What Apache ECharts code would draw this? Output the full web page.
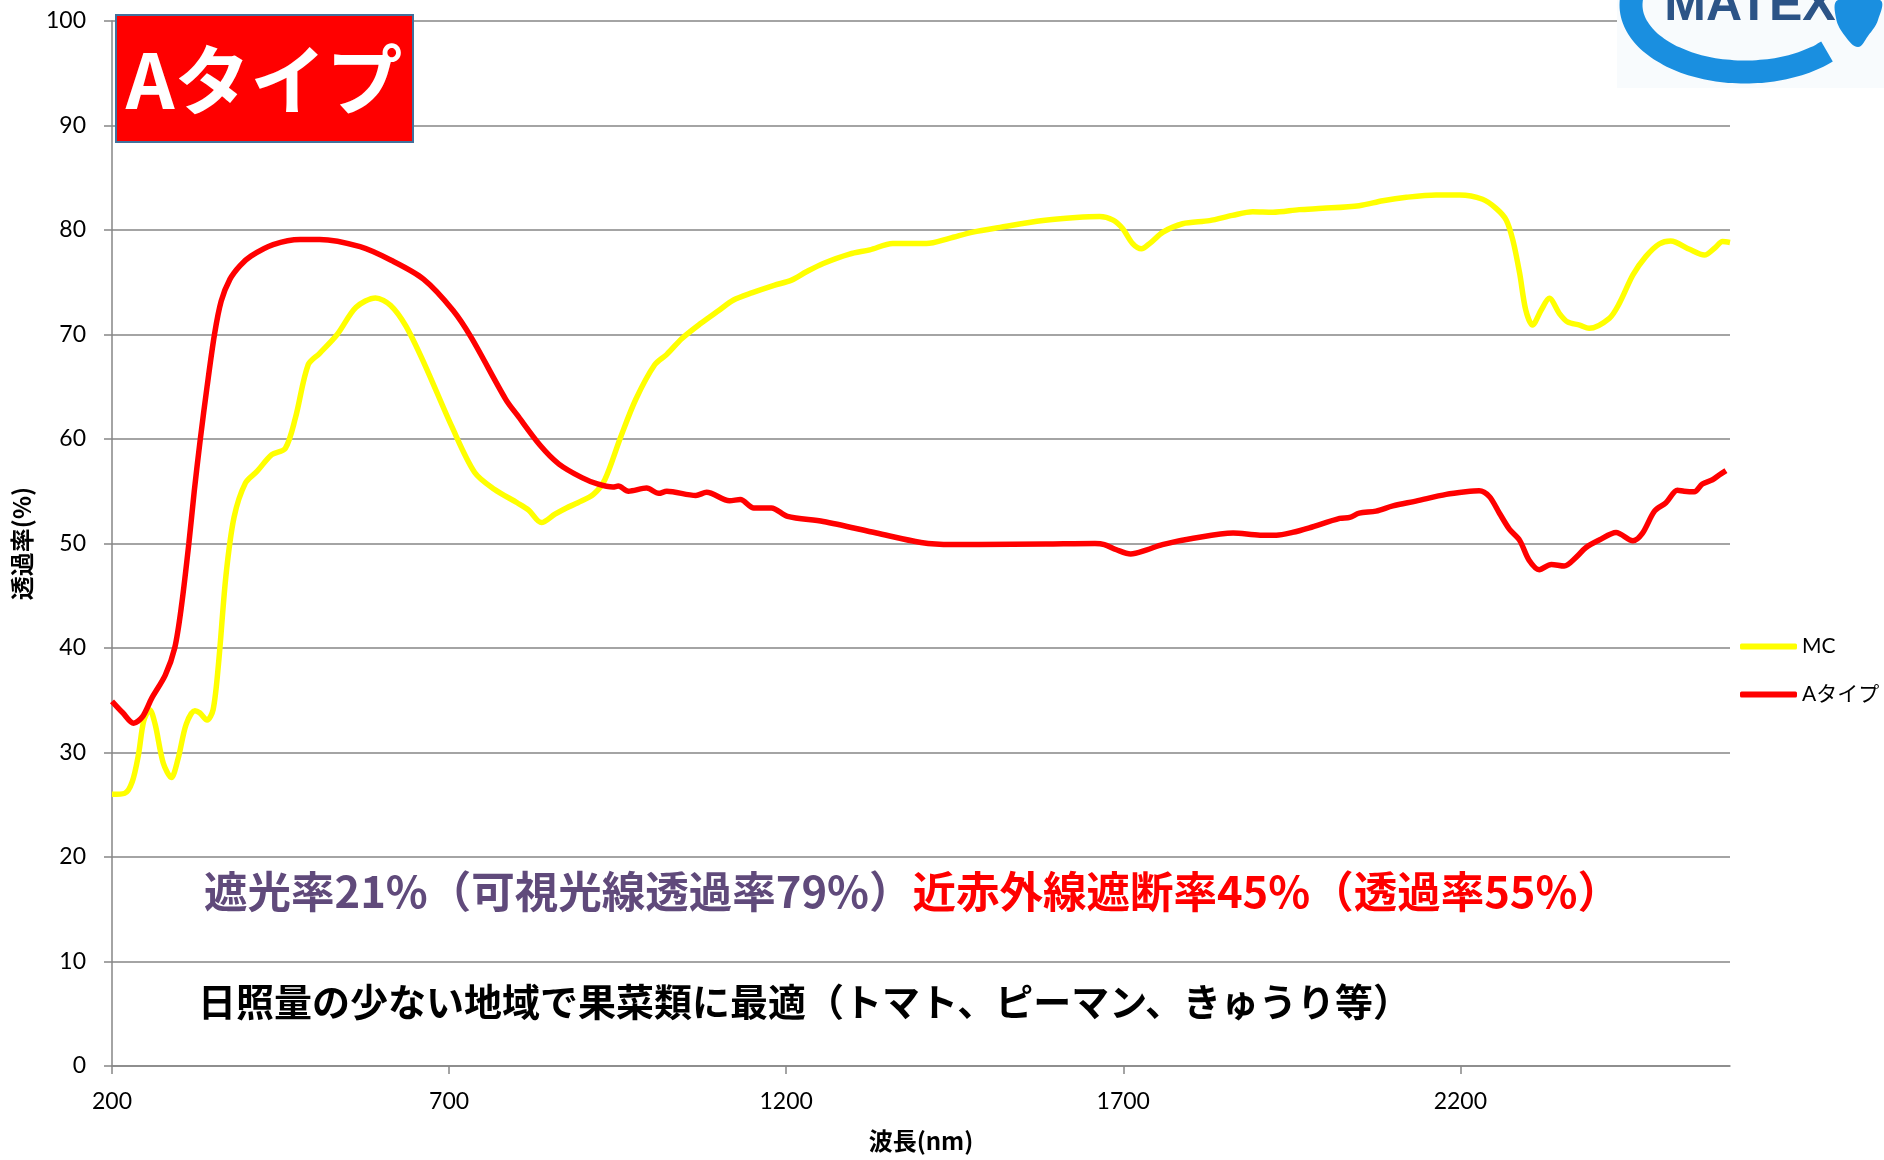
<!DOCTYPE html>
<html>
<head>
<meta charset="utf-8">
<script src="https://cdn.jsdelivr.net/npm/echarts@6/dist/echarts.min.js"></script>
<style>
html,body{margin:0;padding:0;background:#fff;}
#chart{width:1884px;height:1160px;}
</style>
</head>
<body>
<div id="chart"></div>
<script>
// ---- data ----
const seriesNames = ['MC', 'Aタイプ'];
const xTickLabels = [200, 700, 1200, 1700, 2200];

const wavelengthMC = [200,219,230,239,247,256,264,276,288,298,310,323,330,341,350,358,369,381,398,415,437,457,472,491,508,534,562,591,613,636,664,704,738,767,801,818,837,857,874,891,914,931,954,977,1005,1023,1045,1072,1100,1122,1150,1182,1208,1230,1255,1294,1324,1358,1408,1442,1477,1517,1581,1630,1665,1685,1699,1714,1727,1739,1759,1788,1828,1862,1892,1922,1961,1996,2050,2085,2120,2164,2199,2233,2253,2268,2278,2288,2297,2307,2320,2332,2347,2359,2377,2391,2421,2436,2456,2475,2495,2512,2540,2562,2577,2589,2600];
const transMC = [26.0,26.1,27.2,29.7,33.0,34.1,32.7,29.0,27.6,29.4,32.7,34.0,33.8,33.1,34.1,38.5,46.9,52.5,55.8,56.9,58.5,59.1,62.0,67.1,68.2,70.0,72.6,73.5,72.8,70.8,67.1,61.2,56.8,55.2,53.9,53.2,52.0,52.8,53.4,53.9,54.7,56.1,60.1,63.8,67.1,68.1,69.6,71.0,72.3,73.3,74.0,74.7,75.2,76.0,76.8,77.7,78.1,78.7,78.7,79.2,79.8,80.25,80.9,81.2,81.3,80.95,80.15,78.7,78.2,78.7,79.8,80.6,80.9,81.4,81.75,81.7,81.95,82.07,82.33,82.8,83.13,83.35,83.35,82.94,82.07,80.96,79.0,75.85,72.35,70.9,72.35,73.46,72.0,71.2,70.9,70.6,71.55,73.0,75.7,77.45,78.66,78.95,78.15,77.6,78.25,78.9,78.8];

const wavelengthA = [200,216,232,245,259,279,293,303,314,322,331,341,352,362,375,390,406,439,479,508,568,614,662,706,733,784,801,835,863,897,920,943,951,966,993,1011,1023,1066,1082,1116,1132,1152,1178,1202,1255,1334,1400,1446,1486,1585,1658,1672,1690,1711,1735,1758,1804,1863,1903,1927,1951,1976,2021,2036,2050,2075,2100,2134,2179,2208,2228,2243,2258,2273,2288,2302,2317,2335,2354,2372,2386,2406,2431,2456,2470,2488,2505,2522,2532,2547,2559,2574,2584,2594];
const transA = [34.9,33.8,32.8,33.4,35.2,37.4,40.0,44.0,50.0,55.0,60.0,65.0,70.0,73.2,75.3,76.6,77.5,78.6,79.1,79.1,78.4,77.1,75.3,72.3,69.7,63.8,62.3,59.4,57.6,56.3,55.7,55.4,55.5,55.0,55.3,54.8,55.0,54.6,54.9,54.1,54.2,53.4,53.4,52.6,52.1,51.0,50.1,49.9,49.9,49.95,50.0,49.9,49.4,49.0,49.4,49.9,50.5,51.0,50.8,50.8,51.06,51.5,52.4,52.5,52.9,53.1,53.6,54.06,54.7,54.95,55.05,54.5,52.9,51.35,50.3,48.4,47.5,48.0,47.84,48.7,49.6,50.33,51.06,50.27,50.97,53.1,53.9,55.1,55.0,54.95,55.7,56.1,56.55,56.97];

const pairs = (xs, ys) => xs.map((x, i) => [x, ys[i]]);

// decorative logo ring (ellipse arc), not data
const ringPts = [];
for (let a = 200; a >= 42; a -= 4) {
  const t = a * Math.PI / 180;
  ringPts.push([1745 + 114 * Math.cos(t), 5 + 67 * Math.sin(t)]);
}

const chart = echarts.init(document.getElementById('chart'), null, {renderer: 'canvas'});
const gridColor = '#868686';
const labelFont = 'Lato, "Liberation Sans", sans-serif';
const cjkFont = '"Noto Sans CJK JP", "Noto Sans", sans-serif';

chart.setOption({
  animation: false,
  backgroundColor: '#ffffff',
  grid: {left: 112, right: 154, top: 21, bottom: 94, containLabel: false},
  xAxis: {
    type: 'value', min: 200, max: 2600, interval: 500,
    name: '波長(nm)', nameLocation: 'middle', nameGap: 63,
    nameTextStyle: {fontFamily: cjkFont, fontWeight: 'bold', fontSize: 24, color: '#000'},
    axisLine: {show: true, onZero: false, lineStyle: {color: gridColor, width: 1.5}},
    axisTick: {show: true, length: 8, inside: false, customValues: xTickLabels, lineStyle: {color: gridColor, width: 1.5}},
    axisLabel: {customValues: xTickLabels, formatter: v => String(v), margin: 24, fontFamily: labelFont, fontSize: 23, color: '#000'},
    splitLine: {show: false}
  },
  yAxis: {
    type: 'value', min: 0, max: 100, interval: 10,
    name: '透過率(%)', nameLocation: 'middle', nameRotate: 90, nameGap: 78,
    nameTextStyle: {fontFamily: cjkFont, fontWeight: 'bold', fontSize: 24, color: '#000'},
    axisLine: {show: true, lineStyle: {color: gridColor, width: 1.5}},
    axisTick: {show: true, length: 8, lineStyle: {color: gridColor, width: 1.5}},
    axisLabel: {margin: 26, fontFamily: labelFont, fontSize: 23, color: '#000'},
    splitLine: {show: true, lineStyle: {color: gridColor, width: 1.5}}
  },
  legend: {
    orient: 'vertical', left: 1735, top: 631,
    itemWidth: 57, itemHeight: 6, itemGap: 27, icon: 'roundRect',
    textStyle: {fontFamily: 'Lato, "Noto Sans CJK JP", sans-serif', fontSize: 21, color: '#000'},
    data: seriesNames
  },
  series: [
    {
      name: seriesNames[0], type: 'line', data: pairs(wavelengthMC, transMC),
      showSymbol: false, symbol: 'none', smooth: 0.3,
      lineStyle: {color: '#FFFF00', width: 5.5}, itemStyle: {color: '#FFFF00'}
    },
    {
      name: seriesNames[1], type: 'line', data: pairs(wavelengthA, transA),
      showSymbol: false, symbol: 'none', smooth: 0.3,
      lineStyle: {color: '#FF0000', width: 5.5}, itemStyle: {color: '#FF0000'}
    }
  ],
  graphic: [
    {type: 'rect', z: 100, shape: {x: 116, y: 15, width: 297, height: 127},
     style: {fill: '#FF0000', stroke: '#41719C', lineWidth: 2}},
    {type: 'text', z: 101, x: 264, y: 80,
     style: {text: 'Aタイプ', fill: '#FFFFFF', font: 'bold 76px "Noto Sans CJK JP"', align: 'center', verticalAlign: 'middle'}},
    {type: 'rect', z: 100, shape: {x: 1617, y: 0, width: 267, height: 88}, style: {fill: '#F8FBFD'}},
    {type: 'polyline', z: 101, shape: {points: ringPts, smooth: 0.3},
     style: {fill: null, stroke: '#1A8FE0', lineWidth: 23}},
    {type: 'polygon', z: 101, shape: {points: [[1838,0],[1880,0],[1878,20],[1868,36],[1858,47],[1845,36],[1836,18]], smooth: 0.4},
     style: {fill: '#1A8FE0'}},
    {type: 'text', z: 102, x: 1750, y: 6,
     style: {text: 'MATEX', fill: '#2C5487', font: 'bold 50px "Liberation Sans"', align: 'center', verticalAlign: 'middle'}},
    {
      type: 'text', z: 100, x: 204, y: 891,
      style: {
        text: '{a|遮光率21%（可視光線透過率79%）}{b|近赤外線遮断率45%（透過率55%）}',
        verticalAlign: 'middle', align: 'left',
        rich: {
          a: {fill: '#604A7B', fontFamily: cjkFont, fontWeight: 'bold', fontSize: 43.5},
          b: {fill: '#FF0000', fontFamily: cjkFont, fontWeight: 'bold', fontSize: 43.5}
        }
      }
    },
    {
      type: 'text', z: 100, x: 198, y: 1002,
      style: {
        text: '日照量の少ない地域で果菜類に最適（トマト、ピーマン、きゅうり等）',
        fill: '#000000', font: 'bold 38px "Noto Sans CJK JP"', verticalAlign: 'middle', align: 'left'
      }
    }
  ]
});
</script>
</body>
</html>
